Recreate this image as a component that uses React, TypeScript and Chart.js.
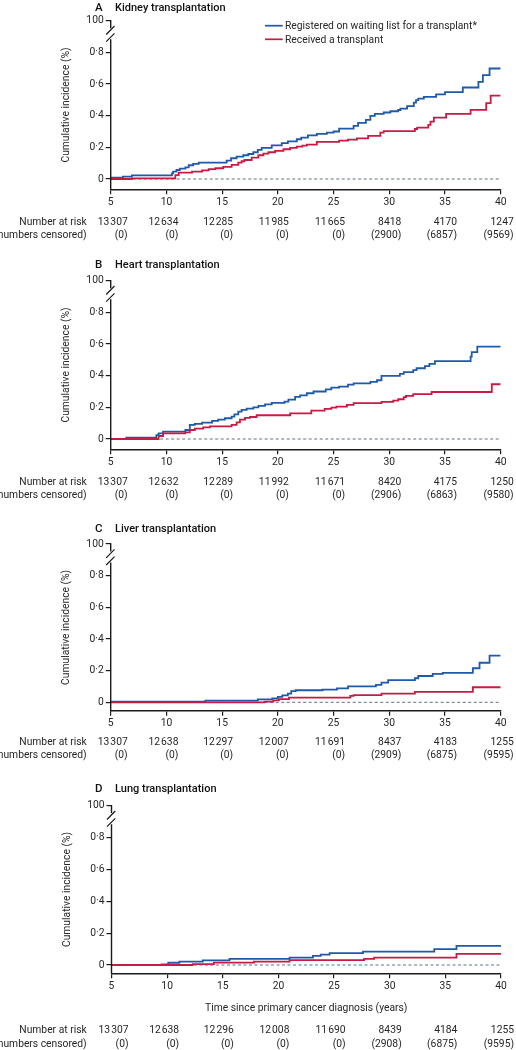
import React, { useEffect, useRef } from "react";
import { Chart, registerables } from "chart.js";

Chart.register(...registerables);

const FONT = "Roboto, 'Open Sans', 'DejaVu Sans', sans-serif";
const FS = 10.3;
const BLUE = "#1f5aa8";
const RED = "#c81a44";
const AXIS = "#1a1a1a";
const TEXT = "#262626";
const ZERO = "#5a7287";

const xTickValues = [5, 10, 15, 20, 25, 30, 35, 40];
const yTickValues = [0, 0.2, 0.4, 0.6, 0.8, 1];
const yTickLabels = ["0", "0·2", "0·4", "0·6", "0·8", "100"];
const riskTimes = [5, 10, 15, 20, 25, 30, 35, 40];
const legendLabels = ["Registered on waiting list for a transplant*", "Received a transplant"];
const yAxisTitle = "Cumulative incidence (%)";
const xAxisTitle = "Time since primary cancer diagnosis (years)";
const riskLabel1 = "Number at risk";
const riskLabel2 = "(numbers censored)";

// A Kidney
const kidneyWaitT = [5, 6.1, 6.9, 10.5, 10.6, 10.9, 11.2, 11.7, 12.0, 12.4, 12.9, 15.4, 15.8, 16.3, 16.9, 17.35, 17.8, 18.2, 18.55, 19.45, 20.35, 20.9, 21.7, 22.1, 22.7, 23.5, 24.4, 25.0, 25.5, 26.8, 27.2, 27.9, 28.3, 28.7, 29.5, 30.1, 30.8, 31.0, 31.6, 32.2, 32.4, 32.6, 33.1, 34.2, 35.0, 36.6, 38.0, 38.4, 39.0, 40];
const kidneyWaitV = [0.008, 0.015, 0.023, 0.036, 0.046, 0.057, 0.065, 0.074, 0.087, 0.095, 0.103, 0.116, 0.131, 0.141, 0.15, 0.158, 0.169, 0.184, 0.196, 0.213, 0.226, 0.238, 0.251, 0.261, 0.276, 0.285, 0.293, 0.3, 0.318, 0.335, 0.354, 0.373, 0.399, 0.411, 0.42, 0.428, 0.436, 0.445, 0.46, 0.483, 0.498, 0.508, 0.519, 0.534, 0.549, 0.578, 0.614, 0.656, 0.698, 0.698];
const kidneyTxT = [5, 6.9, 10.8, 11.1, 12.3, 13.2, 13.8, 14.4, 15.1, 15.85, 16.45, 16.75, 17.0, 17.65, 18.25, 18.7, 19.15, 19.75, 20.5, 21.1, 21.7, 22.2, 22.6, 23.5, 25.5, 26.3, 27.1, 28.1, 29.2, 29.5, 32.3, 32.5, 33.5, 33.7, 34.0, 35.1, 37.3, 38.7, 39.1, 40];
const kidneyTxV = [0, 0.004, 0.025, 0.04, 0.046, 0.055, 0.063, 0.068, 0.076, 0.089, 0.103, 0.112, 0.12, 0.135, 0.15, 0.16, 0.169, 0.178, 0.188, 0.196, 0.205, 0.211, 0.217, 0.234, 0.243, 0.249, 0.257, 0.272, 0.293, 0.302, 0.316, 0.325, 0.342, 0.363, 0.388, 0.411, 0.437, 0.479, 0.527, 0.527];
const kidneyAtRisk = [13307, 12634, 12285, 11985, 11665, 8418, 4170, 1247];
const kidneyCensored = [0, 0, 0, 0, 0, 2900, 6857, 9569];

// B Heart
const heartWaitT = [5, 6.4, 9.1, 9.3, 9.7, 11.7, 12.1, 12.55, 13.2, 14.1, 14.65, 15.25, 15.85, 16.1, 16.45, 16.75, 17.2, 17.8, 18.25, 18.85, 19.45, 20.6, 20.95, 21.55, 22.0, 22.6, 23.2, 24.3, 24.8, 25.5, 26.3, 26.8, 28.3, 28.9, 29.3, 30.95, 31.3, 32.15, 32.45, 33.2, 33.6, 34.1, 37.3, 37.4, 37.9, 40];
const heartWaitV = [0, 0.008, 0.025, 0.035, 0.046, 0.057, 0.089, 0.095, 0.103, 0.114, 0.122, 0.131, 0.141, 0.156, 0.173, 0.184, 0.192, 0.2, 0.209, 0.219, 0.228, 0.236, 0.249, 0.266, 0.276, 0.289, 0.3, 0.314, 0.324, 0.331, 0.344, 0.352, 0.361, 0.371, 0.399, 0.411, 0.422, 0.435, 0.447, 0.46, 0.475, 0.492, 0.521, 0.549, 0.584, 0.584];
const heartTxT = [5, 9.3, 9.7, 11.7, 12.1, 12.55, 13.3, 13.9, 15.85, 16.3, 16.6, 17.05, 17.5, 18.1, 21.1, 23.0, 24.2, 24.8, 25.25, 26.2, 26.8, 29.3, 30.35, 30.8, 31.3, 31.5, 32.15, 33.8, 39.2, 40];
const heartTxV = [0, 0.019, 0.036, 0.042, 0.057, 0.065, 0.074, 0.08, 0.089, 0.105, 0.122, 0.133, 0.139, 0.15, 0.162, 0.179, 0.19, 0.198, 0.205, 0.215, 0.226, 0.234, 0.243, 0.251, 0.264, 0.272, 0.283, 0.297, 0.346, 0.346];
const heartAtRisk = [13307, 12632, 12289, 11992, 11671, 8420, 4175, 1250];
const heartCensored = [0, 0, 0, 0, 0, 2906, 6863, 9580];

// C Liver
const liverWaitT = [5, 13.5, 18.2, 19.5, 20.0, 20.4, 20.9, 21.2, 21.6, 24.0, 25.3, 26.3, 28.8, 29.3, 29.9, 32.3, 32.6, 33.9, 34.8, 37.5, 38.1, 39.0, 40];
const liverWaitV = [0.004, 0.011, 0.019, 0.025, 0.034, 0.044, 0.055, 0.07, 0.076, 0.08, 0.088, 0.1, 0.11, 0.124, 0.14, 0.152, 0.166, 0.18, 0.186, 0.215, 0.25, 0.295, 0.295];
const liverTxT = [5, 18.8, 19.6, 20.1, 21.0, 26.5, 26.8, 29.3, 32.3, 37.5, 40];
const liverTxV = [0, 0.004, 0.012, 0.02, 0.03, 0.04, 0.045, 0.055, 0.066, 0.095, 0.095];
const liverAtRisk = [13307, 12638, 12297, 12007, 11691, 8437, 4183, 1255];
const liverCensored = [0, 0, 0, 0, 0, 2909, 6875, 9595];

// D Lung
const lungWaitT = [5, 9.5, 10.1, 11.1, 13.2, 15.6, 21.0, 23.1, 23.8, 24.6, 27.6, 34.0, 36.0, 40];
const lungWaitV = [0, 0.004, 0.014, 0.021, 0.029, 0.038, 0.046, 0.057, 0.065, 0.075, 0.084, 0.1, 0.12, 0.12];
const lungTxT = [5, 12.3, 14.2, 17.8, 21.0, 27.7, 28.6, 36.0, 40];
const lungTxV = [0, 0.005, 0.015, 0.021, 0.03, 0.038, 0.046, 0.07, 0.07];
const lungAtRisk = [13307, 12638, 12296, 12008, 11690, 8439, 4184, 1255];
const lungCensored = [0, 0, 0, 0, 0, 2908, 6875, 9595];

// right-edge offsets (px) of the number-at-risk columns from their x ticks
const riskOffsets = [17, 12, 11, 11, 11.5, 12, 12, 13];

const fmt = (n: number) => {
  const s = String(n);
  return s.length >= 5 ? s.slice(0, s.length - 3) + "\u200A" + s.slice(s.length - 3) : s;
};
const toXY = (t: number[], v: number[]) => t.map((x, i) => ({ x, y: v[i] }));

type Spec = {
  letter: string;
  title: string;
  top: number;
  height: number;
  plotTop: number;
  zeroY: number;
  plotBottom: number;
  left: number;
  right: number;
  titleBase: number;
  yTitleX: number;
  riskBase1: number;
  riskBase2: number;
  legend: boolean;
  xTitleBase: number | null;
  waitT: number[];
  waitV: number[];
  txT: number[];
  txV: number[];
  atRisk: number[];
  censored: number[];
};

const specs: Spec[] = [
  { letter: "A", title: "Kidney transplantation", top: 0, height: 260, plotTop: 20.7, zeroY: 179, plotBottom: 189.3, left: 110.7, right: 500.7, titleBase: 10.8, yTitleX: 66, riskBase1: 224.7, riskBase2: 238.2, legend: true, xTitleBase: null, waitT: kidneyWaitT, waitV: kidneyWaitV, txT: kidneyTxT, txV: kidneyTxV, atRisk: kidneyAtRisk, censored: kidneyCensored },
  { letter: "B", title: "Heart transplantation", top: 260, height: 260, plotTop: 20.7, zeroY: 179, plotBottom: 189.3, left: 110.7, right: 500.7, titleBase: 7.6, yTitleX: 66, riskBase1: 224.7, riskBase2: 238.2, legend: false, xTitleBase: null, waitT: heartWaitT, waitV: heartWaitV, txT: heartTxT, txV: heartTxV, atRisk: heartAtRisk, censored: heartCensored },
  { letter: "C", title: "Liver transplantation", top: 520, height: 260, plotTop: 24, zeroY: 182.3, plotBottom: 190.7, left: 110.7, right: 500.7, titleBase: 11.7, yTitleX: 66, riskBase1: 224.7, riskBase2: 238.2, legend: false, xTitleBase: null, waitT: liverWaitT, waitV: liverWaitV, txT: liverTxT, txV: liverTxV, atRisk: liverAtRisk, censored: liverCensored },
  { letter: "D", title: "Lung transplantation", top: 780, height: 270, plotTop: 25.7, zeroY: 185, plotBottom: 193.3, left: 111.5, right: 501, titleBase: 11.7, yTitleX: 67.5, riskBase1: 253.3, riskBase2: 266.7, legend: false, xTitleBase: 231.3, waitT: lungWaitT, waitV: lungWaitV, txT: lungTxT, txV: lungTxV, atRisk: lungAtRisk, censored: lungCensored },
];

function Panel({ spec }: { spec: Spec }) {
  const ref = useRef<HTMLCanvasElement>(null);
  useEffect(() => {
    const canvas = ref.current;
    if (!canvas) return;
    const yMin = -(spec.plotBottom - spec.zeroY) / (spec.zeroY - spec.plotTop);
    const overlay = {
      id: "overlay" + spec.letter,
      afterDraw(chart: any) {
        const { ctx, chartArea: ca, scales } = chart;
        const xs = scales.x;
        const ys = scales.y;
        ctx.save();
        // broken y axis
        const ax = ca.left;
        const yTop = ys.getPixelForValue(1);
        ctx.strokeStyle = AXIS;
        ctx.lineWidth = 1.4;
        ctx.beginPath();
        ctx.moveTo(ax, yTop - 0.7);
        ctx.lineTo(ax, yTop + 7.5);
        ctx.moveTo(ax, yTop + 18.5);
        ctx.lineTo(ax, ca.bottom + 0.7);
        ctx.stroke();
        ctx.lineWidth = 1.2;
        ctx.beginPath();
        ctx.moveTo(ax - 4.5, yTop + 13.8);
        ctx.lineTo(ax + 3.8, yTop + 5.3);
        ctx.moveTo(ax - 4.5, yTop + 21);
        ctx.lineTo(ax + 3.8, yTop + 12.6);
        ctx.stroke();

        // y axis title
        ctx.fillStyle = TEXT;
        ctx.font = `${FS}px ${FONT}`;
        ctx.textAlign = "center";
        ctx.textBaseline = "middle";
        ctx.save();
        ctx.translate(spec.yTitleX, (ca.top + ca.bottom) / 2);
        ctx.rotate(-Math.PI / 2);
        ctx.fillText(yAxisTitle, 0, 0);
        ctx.restore();

        ctx.textBaseline = "alphabetic";
        // panel title
        ctx.fillStyle = "#111111";
        ctx.textAlign = "left";
        ctx.font = `500 11.5px ${FONT}`;
        ctx.fillText(spec.letter, 95, spec.titleBase);
        ctx.font = `500 11px ${FONT}`;
        ctx.fillText(spec.title, 115, spec.titleBase);

        // legend
        if (spec.legend) {
          const rows = [
            { label: legendLabels[0], color: BLUE, y: 25.7 },
            { label: legendLabels[1], color: RED, y: 39.3 },
          ];
          ctx.font = `${FS}px ${FONT}`;
          rows.forEach((r) => {
            ctx.strokeStyle = r.color;
            ctx.lineWidth = 1.7;
            ctx.beginPath();
            ctx.moveTo(265, r.y);
            ctx.lineTo(282.7, r.y);
            ctx.stroke();
            ctx.fillStyle = TEXT;
            ctx.fillText(r.label, 285, r.y + 3.6);
          });
        }

        // x axis title
        if (spec.xTitleBase !== null) {
          ctx.fillStyle = TEXT;
          ctx.textAlign = "center";
          ctx.font = `${FS}px ${FONT}`;
          ctx.fillText(xAxisTitle, (ca.left + ca.right) / 2, spec.xTitleBase);
        }

        // number at risk table
        ctx.fillStyle = TEXT;
        ctx.font = `${FS}px ${FONT}`;
        ctx.textAlign = "right";
        ctx.fillText(riskLabel1, 86.7, spec.riskBase1);
        ctx.fillText(riskLabel2, 86.7, spec.riskBase2);
        riskTimes.forEach((t, i) => {
          const px = xs.getPixelForValue(t) + riskOffsets[i];
          ctx.fillText(fmt(spec.atRisk[i]), px, spec.riskBase1);
          ctx.fillText("(" + fmt(spec.censored[i]) + ")", px, spec.riskBase2);
        });
        ctx.restore();
      },
    };

    const chart = new Chart(canvas, {
      type: "line",
      data: {
        datasets: [
          {
            label: legendLabels[1],
            data: toXY(spec.txT, spec.txV),
            borderColor: RED,
            borderWidth: 1.8,
            pointRadius: 0,
            stepped: true,
            fill: false,
          },
          {
            label: legendLabels[0],
            data: toXY(spec.waitT, spec.waitV),
            borderColor: BLUE,
            borderWidth: 1.8,
            pointRadius: 0,
            stepped: true,
            fill: false,
          },
          {
            label: "zero",
            data: [
              { x: 5, y: 0 },
              { x: 40, y: 0 },
            ],
            borderColor: ZERO,
            borderWidth: 1,
            borderDash: [3, 2.5],
            pointRadius: 0,
            fill: false,
          },
        ],
      },
      options: {
        animation: false,
        responsive: false,
        devicePixelRatio: 1,
        events: [],
        layout: { padding: { top: spec.plotTop, left: 0, right: 516 - spec.right, bottom: 0 } },
        plugins: { legend: { display: false }, tooltip: { enabled: false }, title: { display: false } },
        scales: {
          x: {
            type: "linear",
            min: 5,
            max: 40,
            afterBuildTicks: (s: any) => {
              s.ticks = xTickValues.map((v) => ({ value: v }));
            },
            afterFit: (s: any) => {
              s.height = spec.height - spec.plotBottom;
            },
            ticks: {
              callback: (v: any) => String(v),
              maxRotation: 0,
              autoSkip: false,
              color: TEXT,
              padding: 2,
              font: { family: FONT, size: FS },
            },
            grid: { drawOnChartArea: false, drawTicks: true, tickLength: 5, color: AXIS, lineWidth: 1.2 },
            border: { display: true, color: AXIS, width: 1.4 },
          },
          y: {
            type: "linear",
            min: yMin,
            max: 1,
            afterBuildTicks: (s: any) => {
              s.ticks = yTickValues.map((v) => ({ value: v }));
            },
            afterFit: (s: any) => {
              s.width = spec.left;
            },
            ticks: {
              callback: (_v: any, i: number) => yTickLabels[i],
              autoSkip: false,
              color: TEXT,
              padding: 2,
              font: { family: FONT, size: FS },
            },
            grid: { drawOnChartArea: false, drawTicks: true, tickLength: 5, color: AXIS, lineWidth: 1.2 },
            border: { display: false },
          },
        },
      },
      plugins: [overlay],
    } as any);
    return () => chart.destroy();
  }, [spec]);
  return (
    <canvas
      ref={ref}
      width={516}
      height={spec.height}
      style={{ position: "absolute", left: 0, top: spec.top, width: 516, height: spec.height, display: "block" }}
    />
  );
}

export default function App() {
  return (
    <div style={{ position: "absolute", left: 0, top: 0, width: 516, height: 1050, background: "#ffffff", overflow: "hidden" }}>
      {specs.map((s) => (
        <Panel key={s.letter} spec={s} />
      ))}
    </div>
  );
}
